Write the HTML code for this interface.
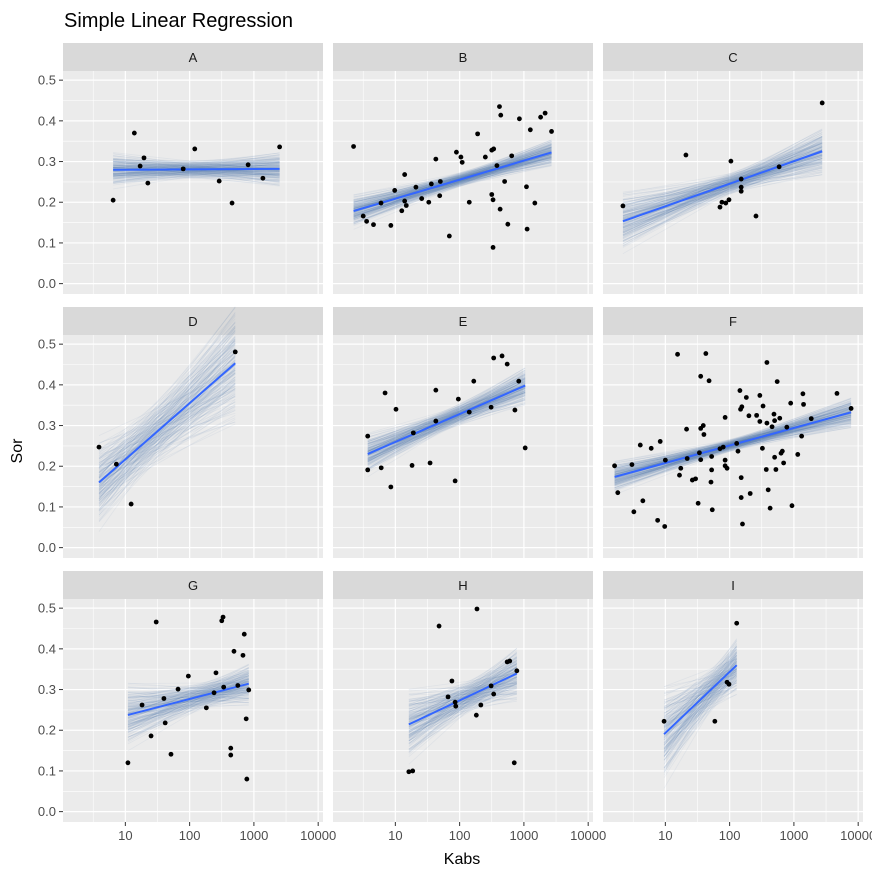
<!DOCTYPE html>
<html><head><meta charset="utf-8"><style>
html,body{margin:0;padding:0;background:#fff;}
svg{display:block;font-family:"Liberation Sans",Arial,sans-serif;}
</style></head><body>
<svg id="chart" width="872" height="879" viewBox="0 0 872 879" xmlns="http://www.w3.org/2000/svg">
<rect x="0" y="0" width="872" height="879" fill="#fff"/>
<text x="64" y="27" font-size="20" fill="#000">Simple Linear Regression</text>
<text x="0" y="0" font-size="16" fill="#000" text-anchor="middle" transform="translate(22,451) rotate(-90)">Sor</text>
<text x="462" y="864" font-size="16" fill="#000" text-anchor="middle">Kabs</text>
<g id="panels"></g>
</svg>
<script>
// data: log10(Kabs) and Sor per facet
const facetNames = ["A","B","C","D","E","F","G","H","I"];
const logKabsA = [.81,1.14,1.23,1.29,1.35,1.90,2.08,2.46,2.66,2.91,3.14,3.40];
const sorA = [.205,.370,.289,.309,.247,.282,.331,.252,.198,.292,.259,.336];
const logKabsB = [.35,.50,.553,.66,.777,.93,.99,1.145,1.145,1.17,1.10,1.32,1.41,1.52,1.56,1.63,1.69,1.70,1.84,1.95,2.02,2.04,2.15,2.28,2.40,2.50,2.53,2.50,2.52,2.52,2.58,2.62,2.64,2.63,2.70,2.75,2.81,2.93,3.05,3.04,3.10,3.17,3.26,3.33,3.43];
const sorB = [.337,.166,.153,.145,.198,.143,.229,.268,.203,.192,.179,.237,.209,.200,.245,.306,.216,.251,.117,.323,.311,.298,.200,.368,.311,.328,.331,.219,.206,.089,.290,.435,.414,.183,.251,.146,.314,.405,.134,.238,.378,.198,.409,.419,.374];
const logKabsC = [.34,1.32,1.85,1.88,1.94,1.99,2.02,2.18,2.18,2.18,2.41,2.77,3.44];
const sorC = [.191,.316,.188,.200,.198,.206,.301,.257,.237,.227,.166,.287,.444];
const logKabsD = [.59,.86,1.09,2.71];
const sorD = [.247,.205,.107,.481];
const logKabsE = [.57,.57,.78,.84,.93,1.01,1.26,1.28,1.54,1.63,1.63,1.93,1.98,2.15,2.22,2.49,2.53,2.66,2.74,2.86,2.92,3.02];
const sorE = [.274,.191,.196,.380,.149,.340,.202,.282,.208,.387,.311,.164,.365,.333,.409,.345,.466,.471,.451,.338,.409,.245];
const logKabsF = [.21,.26,.48,.51,.61,.65,.78,.88,.92,.99,1.0,1.19,1.22,1.24,1.33,1.34,1.42,1.47,1.51,1.53,1.55,1.55,1.55,1.59,1.60,1.63,1.68,1.71,1.72,1.72,1.73,1.85,1.90,1.93,1.93,1.93,1.96,2.11,2.13,2.16,2.17,2.19,2.18,2.18,2.20,2.26,2.30,2.32,2.42,2.47,2.47,2.51,2.52,2.57,2.58,2.58,2.60,2.63,2.66,2.69,2.70,2.70,2.72,2.74,2.78,2.80,2.82,2.84,2.89,2.95,2.97,3.06,3.12,3.14,3.15,3.27,3.67,3.89];
const sorF = [.201,.135,.204,.088,.252,.115,.244,.067,.261,.052,.215,.475,.178,.195,.291,.219,.166,.169,.109,.233,.293,.216,.421,.300,.278,.477,.410,.161,.224,.191,.093,.243,.247,.320,.215,.201,.195,.256,.237,.386,.340,.346,.172,.123,.058,.369,.324,.133,.325,.374,.310,.244,.348,.192,.455,.306,.142,.097,.297,.328,.312,.222,.192,.408,.318,.232,.237,.208,.296,.355,.103,.229,.274,.378,.352,.317,.379,.342];
const logKabsG = [1.04,1.26,1.40,1.48,1.60,1.62,1.71,1.82,1.98,2.26,2.38,2.41,2.50,2.52,2.53,2.64,2.64,2.69,2.75,2.83,2.85,2.88,2.89,2.92];
const sorG = [.120,.262,.186,.466,.278,.218,.141,.301,.333,.255,.292,.341,.469,.478,.306,.156,.139,.394,.310,.384,.436,.228,.080,.299];
const logKabsH = [1.21,1.27,1.68,1.82,1.88,1.93,1.94,2.26,2.27,2.33,2.49,2.53,2.74,2.78,2.85,2.89];
const sorH = [.098,.100,.456,.282,.321,.269,.259,.237,.498,.262,.309,.289,.368,.370,.120,.346];
const logKabsI = [.98,1.77,1.96,1.99,2.11];
const sorI = [.222,.222,.318,.313,.463];
const xTickLabels = ["10","100","1000","10000"];
const xTickValues = [1,2,3,4];
const yTickLabels = ["0.0","0.1","0.2","0.3","0.4","0.5"];
const yTickValues = [0,0.1,0.2,0.3,0.4,0.5];

const facetX = [logKabsA,logKabsB,logKabsC,logKabsD,logKabsE,logKabsF,logKabsG,logKabsH,logKabsI];
const facetY = [sorA,sorB,sorC,sorD,sorE,sorF,sorG,sorH,sorI];

const NS="http://www.w3.org/2000/svg";
const root=document.getElementById('panels');
function mk(tag,attrs,parent){const e=document.createElementNS(NS,tag);for(const k in attrs)e.setAttribute(k,attrs[k]);(parent||root).appendChild(e);return e;}
const colLeft=[63,333,603], W=260;
const rowStrip=[43,307,571], STRIP=28, PH=223;
const xMinLog=0.03, xMaxLog=4.075, yMin=-0.0255, yMax=0.5225;

function vdc(n,b){let r=0,f=1/b;while(n>0){r+=f*(n%b);n=Math.floor(n/b);f/=b;}return r;}
function invNorm(p){const a=[-39.696830,220.946098,-275.928510,138.357751,-30.664798,2.506628],
 b=[-54.476098,161.585836,-155.698979,66.801311,-13.280681],c=[-0.007784894,-0.32239645,-2.4007582,-2.5497325,4.3746641,2.938164],d=[0.007784695,0.32246712,2.445134,3.7544087];
 const pl=0.02425;let q,r;
 if(p<pl){q=Math.sqrt(-2*Math.log(p));return(((((c[0]*q+c[1])*q+c[2])*q+c[3])*q+c[4])*q+c[5])/((((d[0]*q+d[1])*q+d[2])*q+d[3])*q+1);}
 if(p>1-pl){q=Math.sqrt(-2*Math.log(1-p));return-(((((c[0]*q+c[1])*q+c[2])*q+c[3])*q+c[4])*q+c[5])/((((d[0]*q+d[1])*q+d[2])*q+d[3])*q+1);}
 q=p-0.5;r=q*q;return(((((a[0]*r+a[1])*r+a[2])*r+a[3])*r+a[4])*r+a[5])*q/(((((b[0]*r+b[1])*r+b[2])*r+b[3])*r+b[4])*r+1);}

for(let f=0;f<9;f++){
 const col=f%3,row=Math.floor(f/3);
 const L=colLeft[col],T=rowStrip[row]+STRIP,B=T+PH;
 const xs=v=>L+(v-xMinLog)/(xMaxLog-xMinLog)*W;
 const ys=v=>B-(v-yMin)/(yMax-yMin)*PH;
 const g=mk('g',{});
 
 
 const strip=mk('rect',{x:L,y:rowStrip[row],width:W,height:STRIP,fill:'#d9d9d9'},g);
 
 
 const st=mk('text',{x:L+W/2,y:rowStrip[row]+19,'font-size':13,fill:'#1a1a1a','text-anchor':'middle'},g);
 st.textContent=facetNames[f];
 
 
 const bg=mk('rect',{x:L,y:T,width:W,height:PH,fill:'#ebebeb'},g);
 
 
 // minor grid
 for(let v=0.05;v<0.52;v+=0.1){mk('line',{x1:L,x2:L+W,y1:ys(v),y2:ys(v),stroke:'#fff','stroke-width':0.6},g);}
 for(let v=0.5;v<4.1;v+=1){mk('line',{x1:xs(v),x2:xs(v),y1:T,y2:B,stroke:'#fff','stroke-width':0.6},g);}
 yTickValues.forEach(v=>mk('line',{x1:L,x2:L+W,y1:ys(v),y2:ys(v),stroke:'#fff','stroke-width':1.2},g));
 xTickValues.forEach(v=>mk('line',{x1:xs(v),x2:xs(v),y1:T,y2:B,stroke:'#fff','stroke-width':1.2},g));
 // regression
 const X=facetX[f],Y=facetY[f],n=X.length;
 const mx=X.reduce((a,b)=>a+b,0)/n,my=Y.reduce((a,b)=>a+b,0)/n;
 let sxx=0,sxy=0;for(let i=0;i<n;i++){sxx+=(X[i]-mx)**2;sxy+=(X[i]-mx)*(Y[i]-my);}
 const slope=sxy/sxx;let sse=0;for(let i=0;i<n;i++){sse+=(Y[i]-my-slope*(X[i]-mx))**2;}
 const s2=sse/Math.max(n-2,1),seM=0.7*Math.sqrt(s2/n),seS=0.7*Math.sqrt(s2/sxx);
 const x0=Math.min(...X),x1=Math.max(...X);
 const fan=mk('g',{},g);
 
 
 for(let k=1;k<=200;k++){
  const z1=invNorm(vdc(k,2)*0.96+0.02),z2=invNorm(vdc(k,3)*0.96+0.02);
  const m=my+z1*seM,s=slope+z2*seS;
  mk('line',{x1:xs(x0),y1:ys(m+s*(x0-mx)),x2:xs(x1),y2:ys(m+s*(x1-mx)),stroke:'#4a6fb0','stroke-opacity':0.07,'stroke-width':0.8},fan);
 }
 const fit=mk('line',{x1:xs(x0),y1:ys(my+slope*(x0-mx)),x2:xs(x1),y2:ys(my+slope*(x1-mx)),stroke:'#3366ff','stroke-width':2},g);
 
 
 for(let i=0;i<n;i++){
  const p=mk('circle',{cx:xs(X[i]),cy:ys(Y[i]),r:2.4,fill:'#000'},g);
  
  
 }
 if(col===0){
  yTickValues.forEach((v,i)=>{
   mk('line',{x1:L-4,x2:L,y1:ys(v),y2:ys(v),stroke:'#333','stroke-width':1},g);
   const t=mk('text',{x:L-7,y:ys(v)+4.5,'font-size':13,fill:'#4d4d4d','text-anchor':'end'},g);
   t.textContent=yTickLabels[i];
   
   
  });
 }
 if(row===2){
  xTickValues.forEach((v,i)=>{
   mk('line',{x1:xs(v),x2:xs(v),y1:B,y2:B+4,stroke:'#333','stroke-width':1},g);
   const t=mk('text',{x:xs(v),y:B+18,'font-size':13,fill:'#4d4d4d','text-anchor':'middle'},g);
   t.textContent=xTickLabels[i];
   
   
  });
 }
}
</script>
</body></html>
